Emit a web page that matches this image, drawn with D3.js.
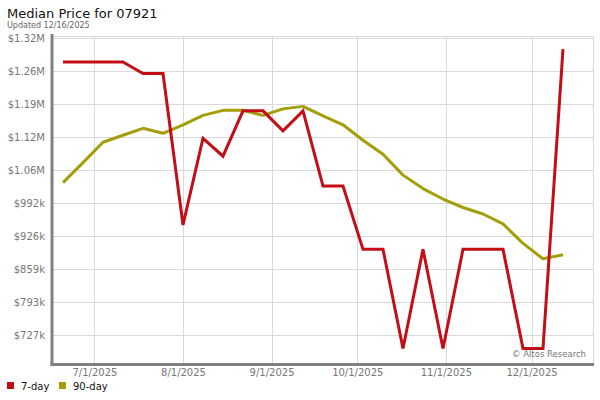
<!DOCTYPE html>
<html><head><meta charset="utf-8">
<script src="https://cdn.jsdelivr.net/npm/d3@7/dist/d3.min.js"></script>
<style>body{margin:0;background:#fff;}svg{display:block;font-family:"DejaVu Sans",sans-serif;}</style>
</head><body><svg id="c" width="600" height="400"></svg>
<script>
const dates = ["2025-06-20","2025-06-27","2025-07-04","2025-07-11","2025-07-18","2025-07-25","2025-08-01","2025-08-08","2025-08-15","2025-08-22","2025-08-29","2025-09-05","2025-09-12","2025-09-19","2025-09-26","2025-10-03","2025-10-10","2025-10-17","2025-10-24","2025-10-31","2025-11-07","2025-11-14","2025-11-21","2025-11-28","2025-12-05","2025-12-12"];
const day7 = [1275000,1275000,1275000,1275000,1252000,1252000,948000,1122000,1086000,1177000,1177000,1137000,1177000,1026000,1026000,899000,899000,700000,899000,700000,899000,899000,899000,700000,700000,1301000];
const day90 = [1033000,1073000,1114000,1128000,1142000,1132000,1149000,1168000,1178000,1178000,1168000,1181000,1186000,1167000,1149000,1118000,1090000,1048000,1021000,1000000,983000,970000,950000,911000,880000,888000];
const yTickValues = [727000,793250,859500,925750,992000,1058250,1124500,1190750,1257000,1323250];
const yTickLabels = ["$727k","$793k","$859k","$926k","$992k","$1.06M","$1.12M","$1.19M","$1.26M","$1.32M"];
const xTickDates = ["2025-07-01","2025-08-01","2025-09-01","2025-10-01","2025-11-01","2025-12-01"];
const xTickLabels = ["7/1/2025","8/1/2025","9/1/2025","10/1/2025","11/1/2025","12/1/2025"];
const seriesNames = ["7-day","90-day"];
const colors = ["#c40e16","#a39e0a"];

const parse = d3.utcParse("%Y-%m-%d");
const svg = d3.select("#c");
const L = 52, R = 593, T = 36, B = 364;
const x = d3.scaleUtc().domain([parse(dates[0]), parse(dates[dates.length-1])]).range([63, 563]);
const y = d3.scaleLinear().domain([668800, 1327300]).range([B, T]);

// title
svg.append("text").attr("x",7).attr("y",18).attr("font-size",13).attr("fill","#111").text("Median Price for 07921");
svg.append("text").attr("x",7).attr("y",28).attr("font-size",8).attr("fill","#666").text("Updated 12/16/2025");

// grid
const g = svg.append("g");
g.append("line").attr("x1",L).attr("x2",R).attr("y1",T+0.5).attr("y2",T+0.5).attr("stroke","#d9d9d9");
g.append("line").attr("x1",R+0.5).attr("x2",R+0.5).attr("y1",T).attr("y2",B).attr("stroke","#d9d9d9");
g.selectAll(".hg").data(yTickValues).join("line")
  .attr("x1",L).attr("x2",R).attr("y1",d=>Math.round(y(d))+0.5).attr("y2",d=>Math.round(y(d))+0.5)
  .attr("stroke","#d9d9d9");
g.selectAll(".vg").data(xTickDates).join("line")
  .attr("x1",d=>Math.round(x(parse(d)))+0.5).attr("x2",d=>Math.round(x(parse(d)))+0.5)
  .attr("y1",T).attr("y2",B).attr("stroke","#d9d9d9");

// y axis
const yAxis = d3.axisLeft(y).tickValues(yTickValues).tickSize(0).tickPadding(0)
  .tickFormat((d,i)=>yTickLabels[i]);
const ya = svg.append("g").attr("transform",`translate(45,0)`).call(yAxis);
ya.select(".domain").remove();
ya.selectAll("text").attr("font-size",10).attr("fill","#777").attr("font-family","DejaVu Sans, sans-serif").attr("dy","0.35em");

// x axis
const xAxis = d3.axisBottom(x).tickValues(xTickDates.map(parse)).tickSize(0).tickPadding(0)
  .tickFormat((d,i)=>xTickLabels[i]);
const xa = svg.append("g").attr("transform",`translate(0,369)`).call(xAxis);
xa.select(".domain").remove();
xa.selectAll("text").attr("font-size",10).attr("fill","#777").attr("font-family","DejaVu Sans, sans-serif");

// axis lines
svg.append("line").attr("x1",L).attr("x2",L).attr("y1",34).attr("y2",366).attr("stroke","#808080").attr("stroke-width",3);
svg.append("line").attr("x1",50.5).attr("x2",594).attr("y1",B+0.5).attr("y2",B+0.5).attr("stroke","#808080").attr("stroke-width",3);

// copyright
svg.append("text").attr("x",586).attr("y",357).attr("text-anchor","end").attr("font-size",8.5).attr("fill","#777").text("© Altos Research");

// lines
const line = d3.line().x((d,i)=>x(parse(dates[i]))).y(d=>y(d));
svg.append("path").datum(day90).attr("d",line).attr("fill","none").attr("stroke",colors[1]).attr("stroke-width",3).attr("stroke-linejoin","round");
svg.append("path").datum(day7).attr("d",line).attr("fill","none").attr("stroke",colors[0]).attr("stroke-width",3).attr("stroke-linejoin","miter");

// legend
const lg = svg.append("g");
const lx = [7, 59];
seriesNames.forEach((n,i)=>{
  lg.append("rect").attr("x",lx[i]).attr("y",382).attr("width",7).attr("height",7).attr("fill",colors[i]);
  lg.append("text").attr("x",lx[i]+14).attr("y",390).attr("font-size",10).attr("fill","#111").text(n);
});
</script></body></html>
